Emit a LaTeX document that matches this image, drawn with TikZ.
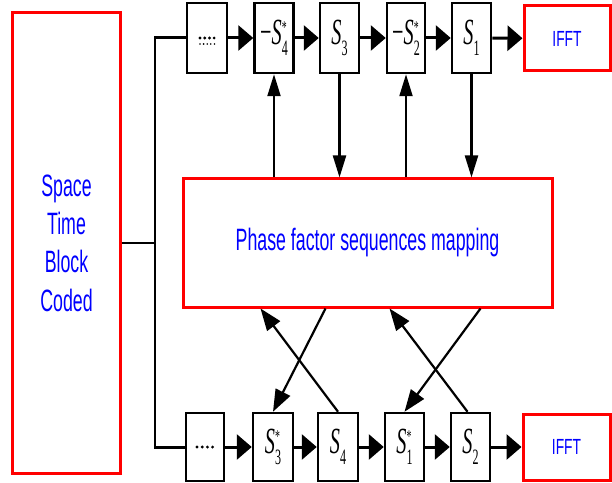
\documentclass[tikz,border=0pt]{standalone}
\usepackage{fontspec}
\setmainfont{Liberation Sans}
\newfontfamily\tms{Liberation Serif}
\usetikzlibrary{arrows.meta,calc}
\definecolor{pured}{RGB}{255,0,0}
\definecolor{publue}{RGB}{0,0,255}
\newcommand\Sl[3]{\scalebox{0.55}[1]{\fontsize{37}{37}\selectfont\tms #1\textit{S}\kern0.5pt\rlap{\raisebox{11pt}{\fontsize{18}{18}\selectfont #3}}\raisebox{-11pt}{\fontsize{22}{22}\selectfont #2}}}
\newcommand\Bt[1]{\scalebox{0.575}[1]{#1}}
\tikzset{
  redbox/.style={draw=pured, line width=3bp, inner sep=0pt},
  sbox/.style={draw=black, line width=2.5bp, inner sep=0pt, minimum width=39bp},
  harr/.style={line width=3bp, -{Triangle[length=15bp,width=25bp]}},
  hline/.style={line width=3bp},
  varr/.style={line width=2.2bp, -{Triangle[length=22bp,width=13bp]}},
  darr/.style={line width=2.2bp, -{Triangle[length=22bp,width=16bp]}},
  bus/.style={line width=2bp},
  btxt/.style={text=publue, font=\fontsize{31}{38.5}\selectfont},
}
\begin{document}
\begin{tikzpicture}[x=1bp,y=-1bp]
\useasboundingbox (0,0) rectangle (612,483);
% left block
\node[redbox, btxt, minimum width=107bp, minimum height=460bp, align=center] (stbc) at (66.5,243)
  {\Bt{Space}\\\Bt{Time}\\\Bt{Block}\\\Bt{Coded}};
% middle block
\node[redbox, btxt, minimum width=369bp, minimum height=128bp] (mid) at (367.5,243) {\Bt{Phase factor sequences mapping}};
% top row
\node[sbox, minimum width=40bp, minimum height=70bp] (a1) at (207,38) {};
\node[sbox, minimum height=70bp] (a2) at (274,38) {\Sl{−}{4}{*}};
\node[sbox, minimum height=70bp] (a3) at (339.5,38) {\Sl{}{3}{}};
\node[sbox, minimum width=38bp, minimum height=70bp] (a4) at (406,38) {\Sl{−}{2}{*}};
\node[sbox, minimum height=70bp] (a5) at (471.5,38) {\Sl{}{1}{}};
\node[redbox, minimum width=86bp, minimum height=65bp, text=publue] (ifa) at (567,38.5) {\scalebox{0.63}[1]{\fontsize{22}{22}\selectfont IFFT}};
% bottom row
\node[sbox, minimum width=38bp, minimum height=68bp] (b1) at (205,447) {};
\node[sbox, minimum width=40bp, minimum height=68bp] (b2) at (273,447) {\Sl{}{3}{*}};
\node[sbox, minimum width=40bp, minimum height=68bp] (b3) at (338,447) {\Sl{}{4}{}};
\node[sbox, minimum width=39bp, minimum height=68bp] (b4) at (404.5,447) {\Sl{}{1}{*}};
\node[sbox, minimum width=39bp, minimum height=68bp] (b5) at (470.5,447) {\Sl{}{2}{}};
\node[redbox, minimum width=87bp, minimum height=66bp, text=publue] (ifb) at (566.5,447) {\scalebox{0.63}[1]{\fontsize{22}{22}\selectfont IFFT}};
% dots
\foreach \i in {0,1,2,3} {\fill ($(a1.center)+(-7+4.7*\i,0)$) circle (1.6bp);}
\foreach \i in {0,1,2,3,4} {\fill ($(a1.center)+(-7+3.6*\i,6)$) circle (0.9bp);}
\foreach \i in {0,1,2,3} {\fill ($(b1.center)+(-8+5.2*\i,0)$) circle (1.6bp);}
% bus
\coordinate (jm) at (155,243);
\coordinate (jt) at (155,38);
\coordinate (jb) at (155,447);
\draw[bus] (stbc.east) -- (jm);
\draw[bus] (jt) -- (jb);
\draw[hline] ($(jt)+(-1,0)$) -- (a1.west);
\draw[hline] ($(jb)+(-1,0)$) -- (b1.west);
% horizontal arrows
\draw[harr] (a1) -- (a2);
\draw[harr] (a2) -- (a3);
\draw[harr] (a3) -- (a4);
\draw[harr] (a4) -- (a5);
\draw[harr] (a5) -- (ifa);
\draw[harr] (b1) -- (b2);
\draw[harr] (b2) -- (b3);
\draw[harr] (b3) -- (b4);
\draw[harr] (b4) -- (b5);
\draw[harr] (b5) -- (ifb);
% vertical top connectors
\draw[varr] (mid.north -| a2) -- (a2.south);
\draw[varr] (a3.south) -- (mid.north -| a3);
\draw[varr] (mid.north -| a4) -- (a4.south);
\draw[varr] (a5.south) -- (mid.north -| a5);
% bottom crossing connectors
\draw[darr] (b3.north) -- ($(mid.south west)+(79,0)$);
\draw[darr] ($(mid.south west)+(144,0)$) -- (b2.north);
\draw[darr] ($(b5.north)+(-3,0)$) -- ($(mid.south west)+(208,0)$);
\draw[darr] ($(mid.south west)+(299,0)$) -- (b4.north);
\end{tikzpicture}
\end{document}
